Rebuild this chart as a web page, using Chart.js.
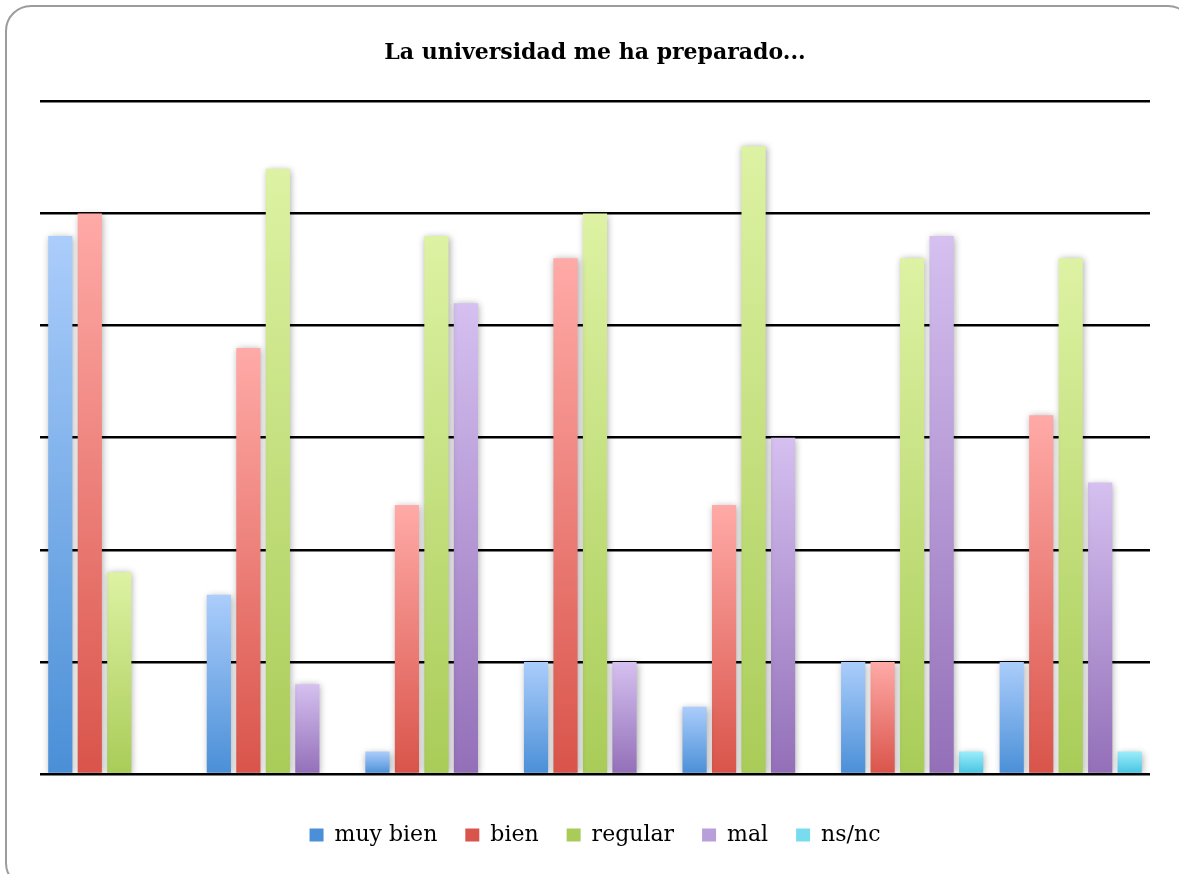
<!DOCTYPE html>
<html>
<head>
<meta charset="utf-8">
<script src="https://cdn.jsdelivr.net/npm/chart.js@4.4.1/dist/chart.umd.min.js"></script>
<style>
  html, body { margin: 0; padding: 0; background: #fff; overflow: hidden; }
  #frame {
    position: absolute; left: 5px; top: 5px;
    width: 1185px; height: 880px;
    border: 2px solid #9c9c9c; border-radius: 26px;
  }
  #chart { position: absolute; left: 0; top: 0; }
</style>
</head>
<body>
<div id="frame"></div>
<canvas id="chart" width="1179" height="874"></canvas>
<script>
const categories = ['1', '2', '3', '4', '5', '6', '7'];
const muyBien = [48, 16, 2, 10, 6, 10, 10];
const bien    = [50, 38, 24, 46, 24, 10, 32];
const regular = [18, 54, 48, 50, 56, 46, 46];
const mal     = [0, 8, 42, 10, 30, 48, 26];
const nsnc    = [0, 0, 0, 0, 0, 2, 2];
const yTicks  = [0, 10, 20, 30, 40, 50, 60];

// light at top of each bar, dark at its base
function grad(top, bottom, mid) {
    return function (c) {
        if (c.type !== 'data') return mid;
        const chart = c.chart;
        const y = chart.scales.y;
        if (!y || !chart.chartArea) return mid;
        const y0 = y.getPixelForValue(0);
        const y1 = y.getPixelForValue(c.raw);
        if (y1 >= y0) return mid;
        const g = chart.ctx.createLinearGradient(0, y1, 0, y0);
        g.addColorStop(0, top);
        g.addColorStop(1, bottom);
        return g;
    };
}

const barShadow = {
    id: 'barShadow',
    beforeDatasetsDraw(chart) {
        const c = chart.ctx;
        c.save();
        c.shadowColor = 'rgba(0,0,0,0.35)';
        c.shadowBlur = 7;
        c.shadowOffsetX = 1;
        c.shadowOffsetY = 1;
    },
    afterDatasetsDraw(chart) {
        chart.ctx.restore();
    }
};

new Chart(document.getElementById('chart'), {
    type: 'bar',
    data: {
        labels: categories,
        datasets: [
            { label: 'muy bien', data: muyBien, backgroundColor: grad('#abcdfb', '#4a8fd7', '#86b6ee') },
            { label: 'bien', data: bien, backgroundColor: grad('#ffaaa7', '#d9544a', '#f08a83') },
            { label: 'regular', data: regular, backgroundColor: grad('#ddf2a3', '#a9cc58', '#c8e386') },
            { label: 'mal', data: mal, backgroundColor: grad('#d5c0f0', '#936fb8', '#b99fd9') },
            { label: 'ns/nc', data: nsnc, backgroundColor: grad('#9cedfb', '#45c3e0', '#78dcef') }
        ]
    },
    options: {
        responsive: false,
        animation: false,
        categoryPercentage: 0.93,
        barPercentage: 0.82,
        layout: { padding: { left: 40, right: 29, top: 0, bottom: 18 } },
        plugins: {
            title: {
                display: true,
                text: 'La universidad me ha preparado...',
                color: '#000',
                font: { family: 'DejaVu Serif', size: 22, weight: 'bold' },
                padding: { top: 40, bottom: 35 }
            },
            legend: {
                position: 'bottom',
                labels: {
                    color: '#000',
                    font: { family: 'DejaVu Serif', size: 22 },
                    boxWidth: 14,
                    boxHeight: 13,
                    padding: 28
                }
            },
            tooltip: { enabled: false }
        },
        scales: {
            x: {
                grid: { display: false },
                border: { display: false },
                ticks: { display: false },
                afterFit(s) { s.height = 22; }
            },
            y: {
                min: 0,
                max: 60,
                afterBuildTicks(s) { s.ticks = yTicks.map(v => ({ value: v })); },
                grid: { color: '#000', lineWidth: 2.5, drawTicks: false },
                border: { display: false },
                ticks: { display: false },
                afterFit(s) { s.width = 0; }
            }
        }
    },
    plugins: [barShadow]
});
</script>
</body>
</html>
